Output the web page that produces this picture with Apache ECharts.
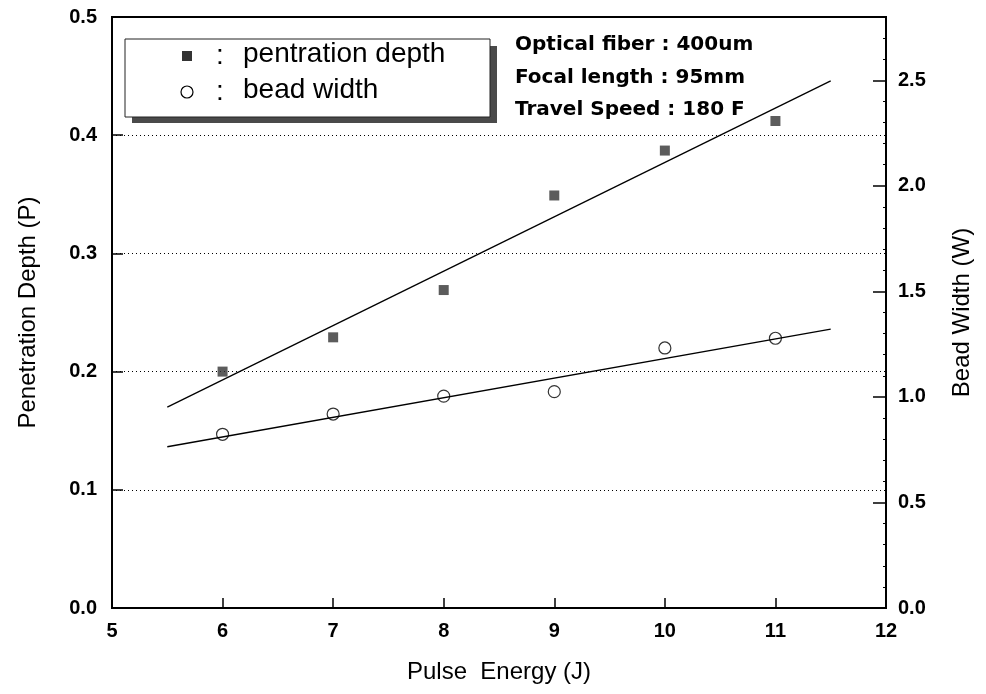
<!DOCTYPE html>
<html>
<head>
<meta charset="utf-8">
<script src="https://cdn.jsdelivr.net/npm/echarts@6/dist/echarts.min.js"></script>
<style>
  html, body { margin: 0; padding: 0; background: #fff; }
  #chart { width: 986px; height: 694px; }
</style>
</head>
<body>
<div id="chart"></div>
<script>
// values
const energy = [6, 7, 8, 9, 10, 11];
const depth = [0.200, 0.229, 0.269, 0.349, 0.387, 0.412];
const beadWidth = [0.823, 0.919, 1.004, 1.025, 1.232, 1.278];

// regression lines (end points)
const fitX = [5.5, 11.5];
const fitDepth = [0.170, 0.446];
const fitWidth = [0.764, 1.321];

const notes = ['Optical fiber : 400um', 'Focal length : 95mm', 'Travel Speed : 180 F'];
const legendNames = ['pentration depth', 'bead width'];

const chart = echarts.init(document.getElementById('chart'));

const tickFont = { color: '#000', fontFamily: 'Liberation Sans', fontSize: 20, fontWeight: 'bold' };
const nameFont = { color: '#000', fontFamily: 'Liberation Sans', fontSize: 24 };

function pairs(xs, ys) {
  return xs.map((x, i) => [x, ys[i]]);
}

const option = {
  animation: false,
  backgroundColor: '#fff',
  grid: {
    left: 112, right: 100, top: 17, bottom: 86,
    show: true, borderColor: '#000', borderWidth: 2
  },
  xAxis: {
    type: 'value', min: 5, max: 12, interval: 1,
    name: 'Pulse  Energy (J)', nameLocation: 'middle', nameGap: 52,
    nameTextStyle: nameFont,
    axisLine: { lineStyle: { color: '#000', width: 2 } },
    axisTick: { inside: true, length: 10, lineStyle: { color: '#000', width: 1.5 } },
    axisLabel: Object.assign({ margin: 13 }, tickFont),
    splitLine: { show: false }
  },
  yAxis: [
    {
      type: 'value', min: 0, max: 0.5, interval: 0.1,
      name: 'Penetration Depth (P)', nameLocation: 'middle', nameGap: 72, nameRotate: 90,
      nameTextStyle: nameFont,
      axisLine: { show: true, lineStyle: { color: '#000', width: 2 } },
      axisTick: { inside: true, length: 11, lineStyle: { color: '#000', width: 1.5 } },
      axisLabel: Object.assign({ margin: 15, formatter: v => v.toFixed(1) }, tickFont),
      splitLine: { show: true, lineStyle: { color: '#000', width: 1, type: [1, 3] } }
    },
    {
      type: 'value', min: 0, max: 2.8, interval: 0.5, position: 'right',
      name: 'Bead Width (W)', nameLocation: 'middle', nameGap: 64, nameRotate: 90,
      nameTextStyle: nameFont,
      axisLine: { show: true, lineStyle: { color: '#000', width: 2 } },
      axisTick: { inside: true, length: 13, lineStyle: { color: '#000', width: 1.5 } },
      minorTick: { show: true, splitNumber: 5, length: 3, lineStyle: { color: '#000', width: 1 } },
      axisLabel: Object.assign({ margin: 12, showMaxLabel: false, formatter: v => v.toFixed(1) }, tickFont),
      splitLine: { show: false }
    }
  ],
  graphic: [
    // legend box with shadow
    { type: 'rect', shape: { x: 132, y: 46, width: 365, height: 77 }, style: { fill: '#4a4a4a' }, z: 10 },
    { type: 'rect', shape: { x: 125, y: 39, width: 365, height: 78 }, style: { fill: '#fff', stroke: '#222', lineWidth: 1 }, z: 11 },
    { type: 'rect', shape: { x: 182, y: 51, width: 10, height: 10 }, style: { fill: '#333' }, z: 12 },
    { type: 'circle', shape: { cx: 187, cy: 92, r: 6 }, style: { fill: 'none', stroke: '#000', lineWidth: 1.2 }, z: 12 },
    { type: 'text', left: 216, top: 42, z: 12, style: { text: ':', fill: '#000', font: '28px "Liberation Sans"' } },
    { type: 'text', left: 216, top: 78, z: 12, style: { text: ':', fill: '#000', font: '28px "Liberation Sans"' } },
    { type: 'text', left: 243, top: 40, z: 12, style: { text: legendNames[0], fill: '#000', font: '28px "Liberation Sans"' } },
    { type: 'text', left: 243, top: 76, z: 12, style: { text: legendNames[1], fill: '#000', font: '28px "Liberation Sans"' } },
    // experiment conditions
    ...notes.map((t, i) => ({
      type: 'text', left: 515, top: 35 + i * 32.5, z: 12,
      style: { text: t, fill: '#000', font: 'bold 20px "DejaVu Sans"' }
    }))
  ],
  series: [
    {
      name: legendNames[0], type: 'scatter', yAxisIndex: 0,
      data: pairs(energy, depth),
      symbol: 'rect', symbolSize: 10,
      itemStyle: { color: '#333' }, z: 5
    },
    {
      name: legendNames[1], type: 'scatter', yAxisIndex: 1,
      data: pairs(energy, beadWidth),
      symbol: 'circle', symbolSize: 12,
      itemStyle: { color: 'rgba(0,0,0,0)', borderColor: '#000', borderWidth: 1.2 }, z: 5
    },
    {
      type: 'line', yAxisIndex: 0, data: pairs(fitX, fitDepth),
      symbol: 'none', lineStyle: { color: '#000', width: 1.3 }, z: 4
    },
    {
      type: 'line', yAxisIndex: 1, data: pairs(fitX, fitWidth),
      symbol: 'none', lineStyle: { color: '#000', width: 1.3 }, z: 4
    }
  ]
};

chart.setOption(option);
</script>
</body>
</html>
